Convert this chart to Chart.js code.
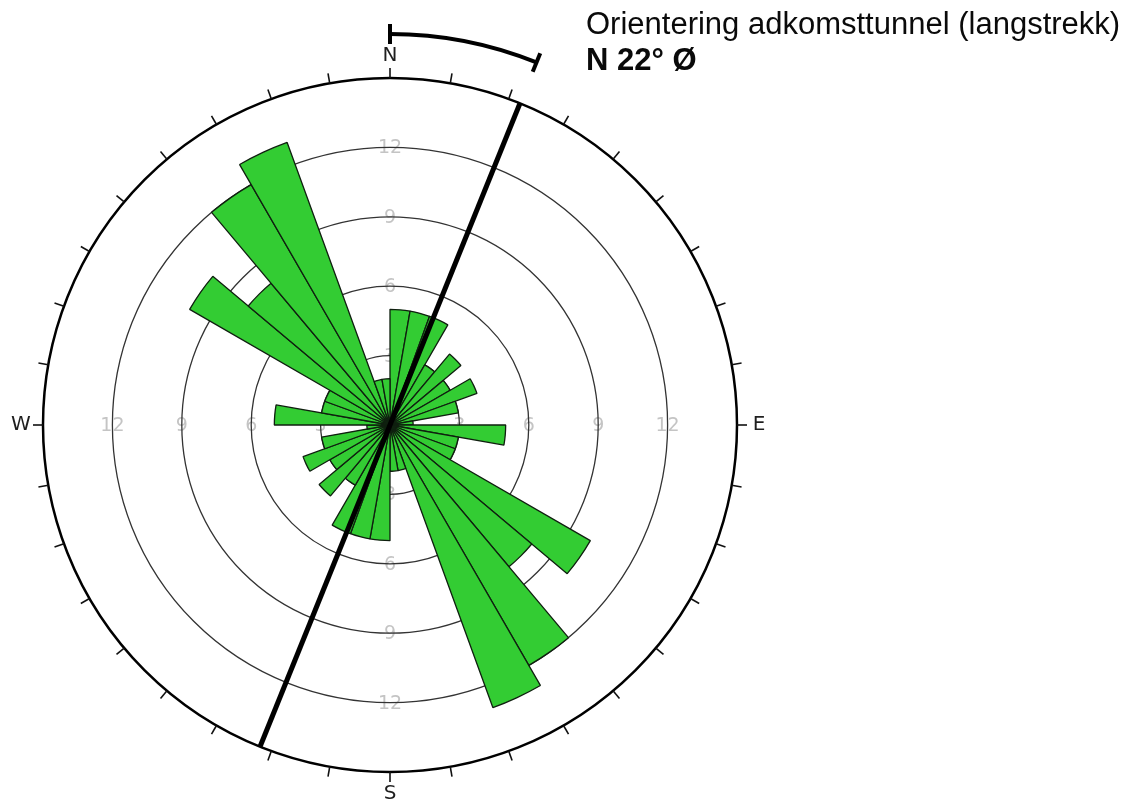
<!DOCTYPE html>
<html>
<head>
<meta charset="utf-8">
<title>Sprekkerose – adkomsttunnel</title>
<script src="https://cdn.jsdelivr.net/npm/chart.js@4/dist/chart.umd.min.js"></script>
<style>
  html, body { margin: 0; padding: 0; background: #fff; }
  #wrap { position: relative; width: 1144px; height: 807px; overflow: hidden; }
  #rose { position: absolute; left: 0; top: 0; }
  .caption {
    position: absolute; left: 586px; top: 6px;
    font-family: "Liberation Sans", Arial, sans-serif;
    font-size: 31px; line-height: 36px; color: #0a0a0a; white-space: nowrap;
  }
  .caption .bearing { font-weight: bold; }
</style>
</head>
<body>
<div id="wrap">
  <canvas id="rose" width="1144" height="807"></canvas>
  <div class="caption">
    <div id="captionTitle"></div>
    <div id="captionBearing" class="bearing"></div>
  </div>
</div>
<script>
// 10° strike bins, clockwise from north
const BIN_LABELS = [
  '0–10°', '10–20°', '20–30°', '30–40°', '40–50°', '50–60°', '60–70°', '70–80°', '80–90°',
  '90–100°', '100–110°', '110–120°', '120–130°', '130–140°', '140–150°', '150–160°', '160–170°', '170–180°',
  '180–190°', '190–200°', '200–210°', '210–220°', '220–230°', '230–240°', '240–250°', '250–260°', '260–270°',
  '270–280°', '280–290°', '290–300°', '300–310°', '310–320°', '320–330°', '330–340°', '340–350°', '350–360°'
];

// number of joint strikes in each bin (bidirectional rose)
const STRIKE_COUNTS = [
  5, 5, 5, 3, 4, 3, 4, 3, 1,
  5, 3, 3, 10, 8, 12, 13, 2, 2,
  5, 5, 5, 3, 4, 3, 4, 3, 1,
  5, 3, 3, 10, 8, 12, 13, 2, 2
];

// ring values printed along N, E, S, W
const RING_LABELS = [3, 6, 9, 12];
const SCALE_MAX = 15;

// compass directions
const COMPASS_LABELS = ['N', 'E', 'S', 'W'];
const COMPASS_BEARINGS = [0, 90, 180, 270];

// tunnel axis
const TUNNEL_BEARING = 22;
const CAPTION_TITLE = 'Orientering adkomsttunnel (langstrekk)';

document.getElementById('captionTitle').textContent = CAPTION_TITLE;
document.getElementById('captionBearing').textContent = 'N ' + TUNNEL_BEARING + '° Ø';

const deg = d => d * Math.PI / 180;
const polar = (cx, cy, r, bearing) => [cx + r * Math.sin(deg(bearing)), cy - r * Math.cos(deg(bearing))];

const roseDecor = {
  id: 'roseDecor',
  // ring values sit beneath the ring lines and the petals
  beforeDraw(chart) {
    const s = chart.scales.r;
    const ctx = chart.ctx;
    ctx.save();
    ctx.font = '19px "DejaVu Sans", Verdana, sans-serif';
    ctx.fillStyle = '#c4c4c4';
    ctx.textAlign = 'center';
    ctx.textBaseline = 'middle';
    RING_LABELS.forEach(v => {
      const d = s.getDistanceFromCenterForValue(v);
      COMPASS_BEARINGS.forEach(b => {
        const [x, y] = polar(s.xCenter, s.yCenter, d, b);
        ctx.fillText(String(v), x, y + 1);
      });
    });
    ctx.restore();
  },
  afterDatasetsDraw(chart) {
    const s = chart.scales.r;
    const ctx = chart.ctx;
    const cx = s.xCenter, cy = s.yCenter;
    const R = s.getDistanceFromCenterForValue(SCALE_MAX);
    ctx.save();

    // degree ticks around the rim
    ctx.strokeStyle = '#111';
    ctx.lineWidth = 1.6;
    BIN_LABELS.forEach((_, i) => {
      const b = i * 10;
      const [x0, y0] = polar(cx, cy, R, b);
      const [x1, y1] = polar(cx, cy, R + 10, b);
      ctx.beginPath();
      ctx.moveTo(x0, y0);
      ctx.lineTo(x1, y1);
      ctx.stroke();
    });

    // compass letters
    ctx.font = '20px "DejaVu Sans", Verdana, sans-serif';
    ctx.fillStyle = '#1e1e1e';
    ctx.textAlign = 'center';
    ctx.textBaseline = 'middle';
    COMPASS_LABELS.forEach((t, i) => {
      const [x, y] = polar(cx, cy, R + 22, COMPASS_BEARINGS[i]);
      ctx.fillText(t, x, y);
    });

    // tunnel axis through the centre
    ctx.strokeStyle = '#000';
    ctx.lineWidth = 5;
    ctx.lineCap = 'butt';
    const [ax, ay] = polar(cx, cy, R, TUNNEL_BEARING);
    const [bx, by] = polar(cx, cy, R, TUNNEL_BEARING + 180);
    ctx.beginPath();
    ctx.moveTo(ax, ay);
    ctx.lineTo(bx, by);
    ctx.stroke();

    // bracket from north to the tunnel bearing
    const rb = R + 44;
    ctx.lineWidth = 4;
    ctx.beginPath();
    ctx.arc(cx, cy, rb, deg(-90), deg(TUNNEL_BEARING - 90));
    ctx.stroke();
    [0, TUNNEL_BEARING].forEach(b => {
      const [x0, y0] = polar(cx, cy, rb - 10, b);
      const [x1, y1] = polar(cx, cy, rb + 10, b);
      ctx.beginPath();
      ctx.moveTo(x0, y0);
      ctx.lineTo(x1, y1);
      ctx.stroke();
    });

    ctx.restore();
  }
};

new Chart(document.getElementById('rose'), {
  type: 'polarArea',
  data: {
    labels: BIN_LABELS,
    datasets: [{
      data: STRIKE_COUNTS,
      backgroundColor: '#33cc33',
      borderColor: '#0f1f0f',
      borderWidth: 1.3
    }]
  },
  options: {
    responsive: false,
    animation: false,
    devicePixelRatio: 1,
    layout: { padding: { left: 43, top: 78, right: 407, bottom: 35 } },
    plugins: {
      legend: { display: false },
      tooltip: { enabled: false }
    },
    scales: {
      r: {
        min: 0,
        max: SCALE_MAX,
        startAngle: 0,
        ticks: { display: false, stepSize: 3 },
        angleLines: { display: false },
        pointLabels: { display: false },
        grid: {
          circular: true,
          color: c => (c.tick && c.tick.value === SCALE_MAX) ? '#000' : '#333',
          lineWidth: c => (c.tick && c.tick.value === SCALE_MAX) ? 2.5 : 1.3
        }
      }
    }
  },
  plugins: [roseDecor]
});
</script>
</body>
</html>
